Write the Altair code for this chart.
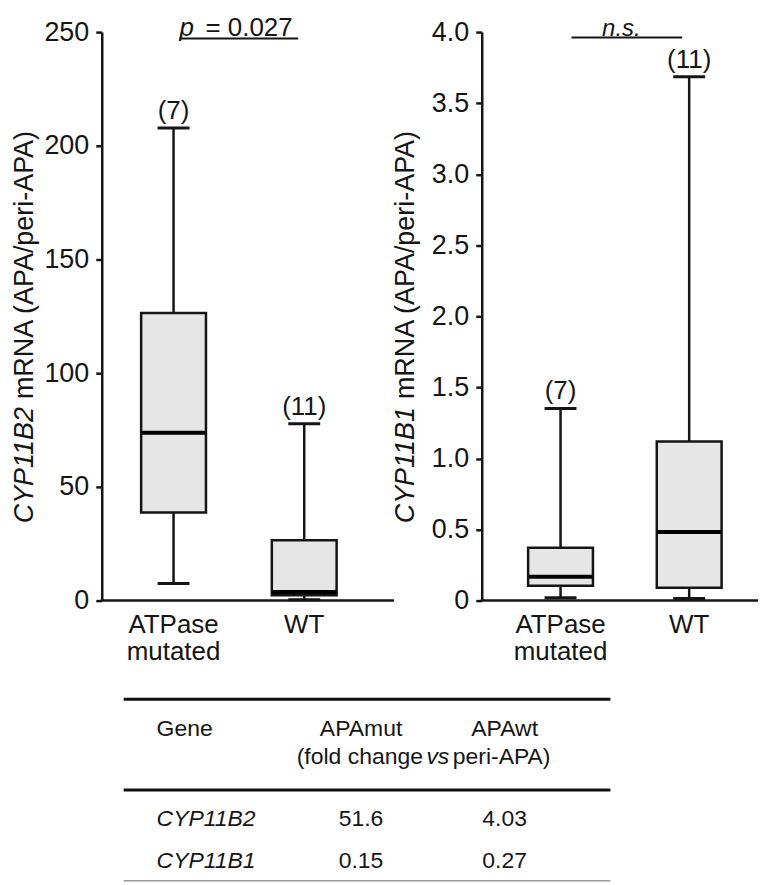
import altair as alt
import pandas as pd

# ---------------- data ----------------
groups = ["ATPase mutated", "WT"]
n_cases = [7, 11]

# CYP11B2 (left panel)
b2_low = [7.5, 0.4]
b2_q1 = [38.7, 2.3]
b2_med = [73.8, 3.8]
b2_q3 = [126.5, 26.5]
b2_high = [207.8, 77.8]

# CYP11B1 (right panel)
b1_low = [0.02, 0.015]
b1_q1 = [0.105, 0.09]
b1_med = [0.168, 0.483]
b1_q3 = [0.371, 1.12]
b1_high = [1.352, 3.685]

b2_ticks = [0, 50, 100, 150, 200, 250]
b1_ticks = [0, 0.5, 1.0, 1.5, 2.0, 2.5, 3.0, 3.5, 4.0]

genes = ["CYP11B2", "CYP11B1"]
table_cols = ["APAmut", "APAwt"]
fold_mut = ["51.6", "0.15"]
fold_wt = ["4.03", "0.27"]

FONT = "Liberation Sans"
INK = "#151515"
BOX_FILL = "#e6e6e6"
FS = 26
TFS = 23
H = 570


def one():
    return alt.Data(values=[{}])


def box_panel(low, q1, med, q3, high, ymax, ticks, yexpr, xrange, pad_inner,
              title_it, title_rest, title_x, title_y, width):
    df = pd.DataFrame({
        "group": groups, "low": low, "q1": q1, "med": med, "q3": q3,
        "high": high, "n": [f"({n})" for n in n_cases],
    })
    xaxis = alt.Axis(title=None, labelExpr="split(datum.label, ' ')", labelAngle=0,
                     ticks=False, tickSize=0, labelPadding=11, labelLineHeight=27,
                     labelFontSize=FS, labelColor=INK, labelFont=FONT,
                     domain=False, grid=False)
    xscale = alt.Scale(domain=groups, range=xrange, paddingInner=pad_inner, paddingOuter=0)
    yscale = alt.Scale(domain=[0, ymax], nice=False, zero=True)
    yaxis = alt.Axis(title=None, values=ticks, labelExpr=yexpr, tickSize=6, tickWidth=2.5,
                     tickColor=INK, domainColor=INK, domainWidth=2.5, labelFontSize=27,
                     labelColor=INK, labelFont=FONT, labelPadding=7, grid=False)

    def X():
        return alt.X("group:N", sort=groups, scale=xscale, axis=xaxis)

    def Y(f):
        return alt.Y(f"{f}:Q", scale=yscale, axis=yaxis)

    base = alt.Chart(df)
    whisk = base.mark_rule(color=INK, strokeWidth=2.5).encode(x=X(), y=Y("low"), y2="high:Q")
    cap_hi = base.mark_tick(size=32, thickness=3, color=INK, opacity=1).encode(x=X(), y=Y("high"))
    cap_lo = base.mark_tick(size=32, thickness=3, color=INK, opacity=1).encode(x=X(), y=Y("low"))
    box = base.mark_bar(width=65, fill=BOX_FILL, stroke=INK, strokeWidth=2.5, opacity=1).encode(
        x=X(), y=Y("q1"), y2="q3:Q")
    med_t = base.mark_tick(size=64, thickness=4, color="#000000", opacity=1).encode(
        x=X(), y=Y("med"))
    cnt = base.mark_text(fontSize=FS, font=FONT, color=INK, baseline="alphabetic", dy=-9).encode(
        x=X(), y=Y("high"), text="n:N")
    # baseline (x axis line) across the full panel width, at y = 0 on the data scale
    xline = alt.Chart(one()).mark_rule(color=INK, strokeWidth=2.5).encode(
        y=alt.YDatum(0, type="quantitative", scale=yscale, axis=yaxis),
        x=alt.value(-1), x2=alt.value(width))
    t1 = alt.Chart(one()).mark_text(text=title_it, angle=270, align="right", baseline="middle",
                                    fontStyle="italic", fontSize=27, font=FONT, color=INK).encode(
        x=alt.value(title_x), y=alt.value(title_y))
    t2 = alt.Chart(one()).mark_text(text=title_rest, angle=270, align="left", baseline="middle",
                                    fontSize=27, font=FONT, color=INK).encode(
        x=alt.value(title_x), y=alt.value(title_y - 8))
    return [whisk, cap_hi, cap_lo, box, med_t, cnt, xline, t1, t2]


# ---------------- left panel ----------------
left_layers = box_panel(b2_low, b2_q1, b2_med, b2_q3, b2_high, 250, b2_ticks,
                        "format(datum.value, 'd')", [39.5, 235.5], 0.504,
                        "CYP11B2", "mRNA (APA/peri-APA)", -77, 376, 293)
p_it = alt.Chart(one()).mark_text(text="p", align="left", baseline="alphabetic", fontStyle="italic",
                                  fontSize=FS, font=FONT, color=INK).encode(
    x=alt.value(78), y=alt.value(4))
p_rest = alt.Chart(one()).mark_text(text="= 0.027", align="left", baseline="alphabetic",
                                    fontSize=FS, font=FONT, color=INK).encode(
    x=alt.value(104), y=alt.value(4))
p_line = alt.Chart(one()).mark_rule(color=INK, strokeWidth=2).encode(
    x=alt.value(78), x2=alt.value(197), y=alt.value(6.5))
left_boxes = alt.layer(*left_layers, p_it, p_rest, p_line)

# ---------------- table (drawn below both panels) ----------------
tab_x = alt.Scale(type="point", domain=table_cols, range=[260, 404], padding=0)
tab_y = alt.Scale(type="point", domain=genes, range=[789, 831], padding=0)

tab_long = pd.DataFrame({
    "gene": genes * 2,
    "col": [table_cols[0]] * 2 + [table_cols[1]] * 2,
    "val": fold_mut + fold_wt,
})

hdr_y = 699
hdr2_y = 727
line_top = alt.Chart(one()).mark_rule(color="#111111", strokeWidth=3).encode(
    x=alt.value(22), x2=alt.value(510), y=alt.value(669))
line_mid = alt.Chart(one()).mark_rule(color="#111111", strokeWidth=3).encode(
    x=alt.value(22), x2=alt.value(510), y=alt.value(760))
line_bot = alt.Chart(one()).mark_rule(color="#9a9a9a", strokeWidth=1.5).encode(
    x=alt.value(22), x2=alt.value(510), y=alt.value(851))
gene_hdr = alt.Chart(one()).mark_text(text="Gene", align="left", baseline="middle",
                                      fontSize=TFS, font=FONT, color=INK).encode(
    x=alt.value(55), y=alt.value(hdr_y))
col_hdr = alt.Chart(pd.DataFrame({"col": table_cols})).mark_text(
    baseline="middle", fontSize=TFS, font=FONT, color=INK).encode(
    x=alt.X("col:N", scale=tab_x, axis=None), y=alt.value(hdr_y), text="col:N")
fold1 = alt.Chart(one()).mark_text(text="(fold change", align="right", baseline="middle",
                                   fontSize=TFS, font=FONT, color=INK).encode(
    x=alt.value(322), y=alt.value(hdr2_y))
fold2 = alt.Chart(one()).mark_text(text="vs", align="center", baseline="middle", fontStyle="italic",
                                   fontSize=TFS, font=FONT, color=INK).encode(
    x=alt.value(337), y=alt.value(hdr2_y))
fold3 = alt.Chart(one()).mark_text(text="peri-APA)", align="left", baseline="middle",
                                   fontSize=TFS, font=FONT, color=INK).encode(
    x=alt.value(352), y=alt.value(hdr2_y))
gene_col = alt.Chart(pd.DataFrame({"gene": genes})).mark_text(
    align="left", baseline="middle", fontStyle="italic", fontSize=TFS, font=FONT, color=INK).encode(
    x=alt.value(55), y=alt.Y("gene:N", scale=tab_y, axis=None), text="gene:N")
vals = alt.Chart(tab_long).mark_text(baseline="middle", fontSize=TFS, font=FONT, color=INK).encode(
    x=alt.X("col:N", scale=tab_x, axis=None), y=alt.Y("gene:N", scale=tab_y, axis=None),
    text="val:N")
table = alt.layer(line_top, line_mid, line_bot, gene_hdr, col_hdr, fold1, fold2, fold3,
                  gene_col, vals)

left = alt.layer(left_boxes, table).resolve_scale(x="independent", y="independent").properties(
    width=293, height=H)

# ---------------- right panel ----------------
right_layers = box_panel(b1_low, b1_q1, b1_med, b1_q3, b1_high, 4.0, b1_ticks,
                         "datum.value == 0 ? '0' : format(datum.value, '.1f')",
                         [46.5, 240.5], 0.496,
                         "CYP11B1", "mRNA (APA/peri-APA)", -76, 376, 277)
ns_t = alt.Chart(one()).mark_text(text="n.s.", align="center", baseline="alphabetic",
                                  fontStyle="italic", fontSize=24, font=FONT, color=INK).encode(
    x=alt.value(140), y=alt.value(4))
ns_line = alt.Chart(one()).mark_rule(color=INK, strokeWidth=2).encode(
    x=alt.value(90), x2=alt.value(201), y=alt.value(5.5))
right = alt.layer(*right_layers, ns_t, ns_line).properties(width=277, height=H)

chart = alt.hconcat(left, right, spacing=88, bounds="flush").properties(
    padding={"left": 2, "top": 6, "right": 0, "bottom": 0}
).configure(font=FONT).configure_view(stroke=None)

chart.save("out.html", embed_options={"renderer": "svg", "actions": False})
